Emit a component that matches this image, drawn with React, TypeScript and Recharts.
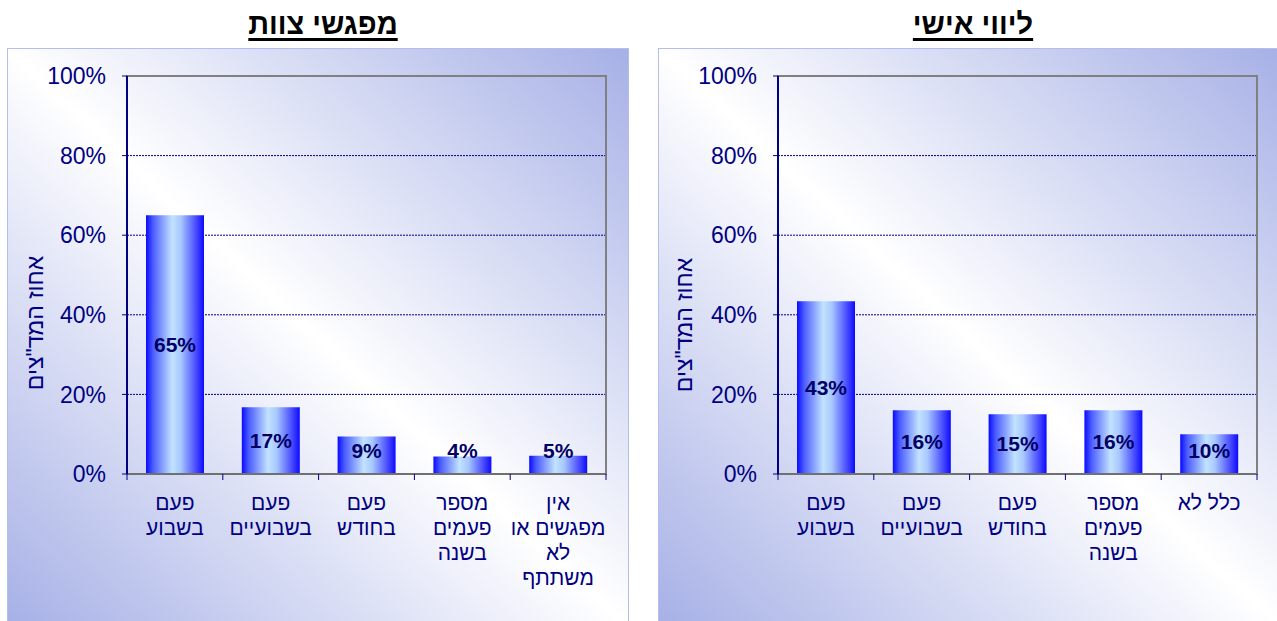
import React from 'react';
import { BarChart, Bar, XAxis, YAxis, CartesianGrid, LabelList, ReferenceArea } from 'recharts';

// מפגשי צוות
const teamCategories = ['פעם\nבשבוע', 'פעם\nבשבועיים', 'פעם\nבחודש', 'מספר\nפעמים\nבשנה', 'אין\nמפגשים או\nלא\nמשתתף'];
const teamValues = [65, 16.8, 9.4, 4.4, 4.6];

// ליווי אישי
const personalCategories = ['פעם\nבשבוע', 'פעם\nבשבועיים', 'פעם\nבחודש', 'מספר\nפעמים\nבשנה', 'כלל לא'];
const personalValues = [43.4, 16, 15, 16, 10];

const yTicks = [0, 20, 40, 60, 80, 100];

const NAVY = '#000080';
const FONT = '"Liberation Sans", Arial, sans-serif';
const BAND = 95.8;

const CategoryTick = (props: any) => {
  const { x, y, payload, index, visibleTicksCount } = props;
  const lines = String(payload.value).split('\n');
  const half = BAND / 2;
  return (
    <g>
      <line x1={x - half} x2={x - half} y1={y} y2={y + 6} stroke={NAVY} strokeWidth={1} />
      {index === visibleTicksCount - 1 && (
        <line x1={x + half} x2={x + half} y1={y} y2={y + 6} stroke={NAVY} strokeWidth={1} />
      )}
      <text x={x} y={y + 36} textAnchor="middle" fill={NAVY} fontSize={21} fontFamily={FONT}>
        {lines.map((l, i) => (
          <tspan key={i} x={x} dy={i === 0 ? 0 : 25}>{l}</tspan>
        ))}
      </text>
    </g>
  );
};

const ValueLabel = (props: any) => {
  const { x, y, width, height, value } = props;
  const cy = Math.min(y + height / 2, y + height - 23);
  return (
    <text x={x + width / 2} y={cy} dy={7} textAnchor="middle" fill="#000066" fontSize={21} fontWeight="bold" fontFamily={FONT}>
      {`${Math.round(value)}%`}
    </text>
  );
};

const Panel = ({ id, categories, values, width }: { id: string; categories: string[]; values: number[]; width: number }) => {
  const data = categories.map((c, i) => ({ name: c, value: values[i] }));
  return (
    <BarChart width={width} height={573} data={data} margin={{ top: 27, right: width - 598, bottom: 118, left: 0 }}>
      <defs>
        <linearGradient id={`bar-${id}`} x1="0" y1="0" x2="1" y2="0">
          <stop offset="0" stopColor="#0A0AFF" />
          <stop offset="0.12" stopColor="#4A5CFF" />
          <stop offset="0.45" stopColor="#C2E2FF" />
          <stop offset="0.6" stopColor="#A8C8FF" />
          <stop offset="0.9" stopColor="#3A3AFF" />
          <stop offset="1" stopColor="#0A0AFF" />
        </linearGradient>
      </defs>
      <CartesianGrid vertical={false} stroke={NAVY} strokeDasharray="2 1" strokeWidth={1} />
      <ReferenceArea y1={0} y2={100} fill="none" stroke="#808080" strokeWidth={2} ifOverflow="visible" />
      <XAxis
        dataKey="name"
        interval={0}
        tickLine={false}
        tickSize={0}
        tickMargin={0}
        tick={<CategoryTick />}
        axisLine={{ stroke: '#707070', strokeWidth: 2 }}
      />
      <YAxis
        domain={[0, 100]}
        ticks={yTicks}
        width={119}
        tickSize={5}
        tickMargin={16}
        tickFormatter={(v: number) => `${v}%`}
        tick={{ fill: NAVY, fontSize: 23, fontFamily: FONT }}
        tickLine={{ stroke: NAVY }}
        axisLine={{ stroke: NAVY, strokeWidth: 2 }}
        interval={0}
      />
      <Bar dataKey="value" fill={`url(#bar-${id})`} barSize={58} isAnimationActive={false}>
        <LabelList dataKey="value" content={<ValueLabel />} />
      </Bar>
    </BarChart>
  );
};

const panelStyle = (left: number, width: number): React.CSSProperties => ({
  position: 'absolute',
  left,
  top: 48,
  width,
  height: 580,
  boxSizing: 'border-box',
  border: '1px solid #B4BDEB',
  background: 'linear-gradient(to top right, #A6B0E6 0%, #FFFFFF 50%, #A6B0E6 100%)',
});

const titleStyle = (center: number): React.CSSProperties => ({
  position: 'absolute',
  left: center - 200,
  width: 400,
  top: 8,
  textAlign: 'center',
  fontFamily: FONT,
  fontSize: 29,
  fontWeight: 'bold',
  lineHeight: '32px',
  textDecoration: 'underline',
  textDecorationThickness: '3px',
  textUnderlineOffset: '4px',
  color: '#000',
});

const axisTitleStyle = (cx: number, cy: number): React.CSSProperties => ({
  position: 'absolute',
  left: cx,
  top: cy,
  transform: 'translate(-50%, -50%) rotate(-90deg)',
  fontFamily: FONT,
  fontSize: 23,
  color: NAVY,
  whiteSpace: 'nowrap',
});

export default function App() {
  return (
    <div style={{ position: 'absolute', left: 0, top: 0, width: 1277, height: 621, background: '#fff', overflow: 'hidden' }}>
      <div style={titleStyle(323)}>מפגשי צוות</div>
      <div style={titleStyle(973)}>ליווי אישי</div>

      <div style={panelStyle(7, 622)}>
        <div style={{ position: 'absolute', left: 0, top: 0 }}>
          <Panel id="team" categories={teamCategories} values={teamValues} width={622} />
        </div>
      </div>
      <div style={axisTitleStyle(35, 323)}>אחוז המד"צים</div>

      <div style={panelStyle(658, 625)}>
        <div style={{ position: 'absolute', left: 0, top: 0 }}>
          <Panel id="personal" categories={personalCategories} values={personalValues} width={619} />
        </div>
      </div>
      <div style={axisTitleStyle(684, 325)}>אחוז המד"צים</div>
    </div>
  );
}
